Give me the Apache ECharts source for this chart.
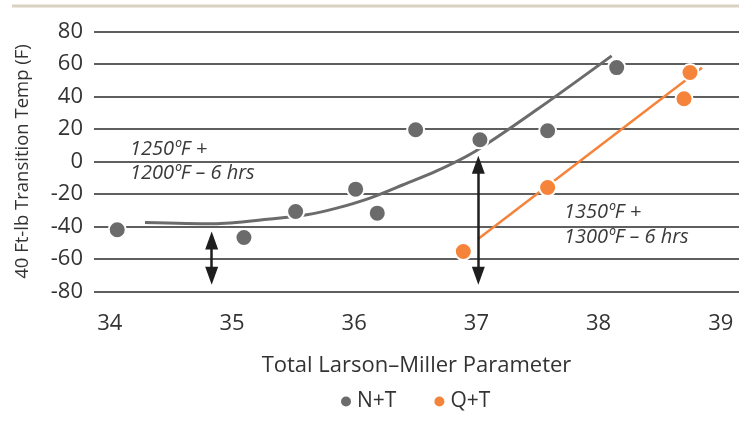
<!DOCTYPE html>
<html>
<head>
<meta charset="utf-8">
<script src="https://cdn.jsdelivr.net/npm/echarts@6/dist/echarts.min.js"></script>
<style>html,body{margin:0;padding:0;background:#fff;}#c{width:756px;height:429px;}</style>
</head>
<body>
<div id="c"></div>
<script>
// Data
const xTicks = [34, 35, 36, 37, 38, 39];
const ntPoints = [[34.061,-42.0],[35.098,-46.8],[35.521,-30.8],[36.012,-17.0],[36.189,-31.8],[36.503,19.5],[37.029,13.4],[37.583,18.9],[38.148,57.8]];
const qtPoints = [[36.893,-55.4],[37.583,-16.0],[38.699,38.6],[38.748,54.8]];
const ntTrend = [[34.288,-37.5],[34.847,-38.3],[35.311,-35.4],[35.611,-32.8],[35.857,-28.7],[36.129,-22.5],[36.402,-14.3],[36.675,-5.8],[36.989,6.2],[37.493,31.8],[38.107,65.0]];
const qtTrend = [[37.011,-47.8],[38.846,57.7]];
const arrows = [[[34.834,-48.6],[34.834,-70.3]],[[37.016,-2.0],[37.016,-70.3]]];
const notes = [['1250ºF +','1200ºF – 6 hrs'],['1350ºF +','1300ºF – 6 hrs']];

const FONT = '"Open Sans", "Noto Sans", sans-serif';
const GRAY = '#6b6b6b';
const ORANGE = '#f5843a';
const TXT = '#333333';

const chart = echarts.init(document.getElementById('c'), null, {renderer: 'canvas'});
chart.setOption({
  animation: false,
  textStyle: {fontFamily: FONT},
  grid: {left: 94, right: 17, top: 31.5, height: 260},
  xAxis: {
    type: 'value', min: 33.871, max: 39.149,
    axisLine: {show: false}, axisTick: {show: false}, splitLine: {show: false},
    axisLabel: {customValues: xTicks, color: TXT, fontSize: 22, fontFamily: FONT, margin: 21},
    name: 'Total Larson–Miller Parameter', nameLocation: 'middle', nameGap: 63,
    nameTextStyle: {color: TXT, fontSize: 22, fontFamily: FONT}
  },
  yAxis: {
    type: 'value', min: -80, max: 80, interval: 20,
    axisLine: {show: false}, axisTick: {show: false},
    splitLine: {lineStyle: {color: '#2a2a2a', width: 1.5}},
    axisLabel: {color: TXT, fontSize: 22, fontFamily: FONT, margin: 11},
    name: '40 Ft-lb Transition Temp (F)', nameLocation: 'middle', nameGap: 62,
    nameTextStyle: {color: TXT, fontSize: 18.5, fontFamily: FONT}
  },
  legend: {
    data: ['N+T', 'Q+T'], left: 334, top: 386, icon: 'circle', itemWidth: 12, itemHeight: 12,
    itemGap: 36, textStyle: {color: TXT, fontSize: 21, fontFamily: FONT}
  },
  graphic: [
    {type: 'line', shape: {x1: 12, y1: 6, x2: 739, y2: 6}, style: {stroke: '#d9d1c1', lineWidth: 3}},
    {type: 'text', left: 130, top: 138, style: {text: notes[0].join('\n'), fontSize: 20, fontStyle: 'italic', fontFamily: FONT, fill: '#3a3a3a', lineHeight: 23.5}},
    {type: 'text', left: 564, top: 200, style: {text: notes[1].join('\n'), fontSize: 20, fontStyle: 'italic', fontFamily: FONT, fill: '#3a3a3a', lineHeight: 25}}
  ],
  series: [
    {type: 'line', data: ntTrend, smooth: 0.3, showSymbol: false, symbol: 'none', lineStyle: {color: GRAY, width: 3}, z: 2, silent: true},
    {type: 'line', data: qtTrend, showSymbol: false, symbol: 'none', lineStyle: {color: ORANGE, width: 2.5}, z: 2, silent: true},
    {type: 'lines', coordinateSystem: 'cartesian2d', data: arrows.map(a => ({coords: a})),
      symbol: ['triangle', 'triangle'], symbolSize: [[13, 18], [13, 18]],
      lineStyle: {color: '#1e1e1e', width: 2.5, opacity: 1}, z: 3, silent: true},
    {name: 'N+T', type: 'scatter', data: ntPoints, symbolSize: 17, itemStyle: {color: GRAY, borderColor: '#fff', borderWidth: 2, opacity: 1}, z: 5},
    {name: 'Q+T', type: 'scatter', data: qtPoints, symbolSize: 17, itemStyle: {color: ORANGE, borderColor: '#fff', borderWidth: 2, opacity: 1}, z: 5}
  ]
});
</script>
</body>
</html>
